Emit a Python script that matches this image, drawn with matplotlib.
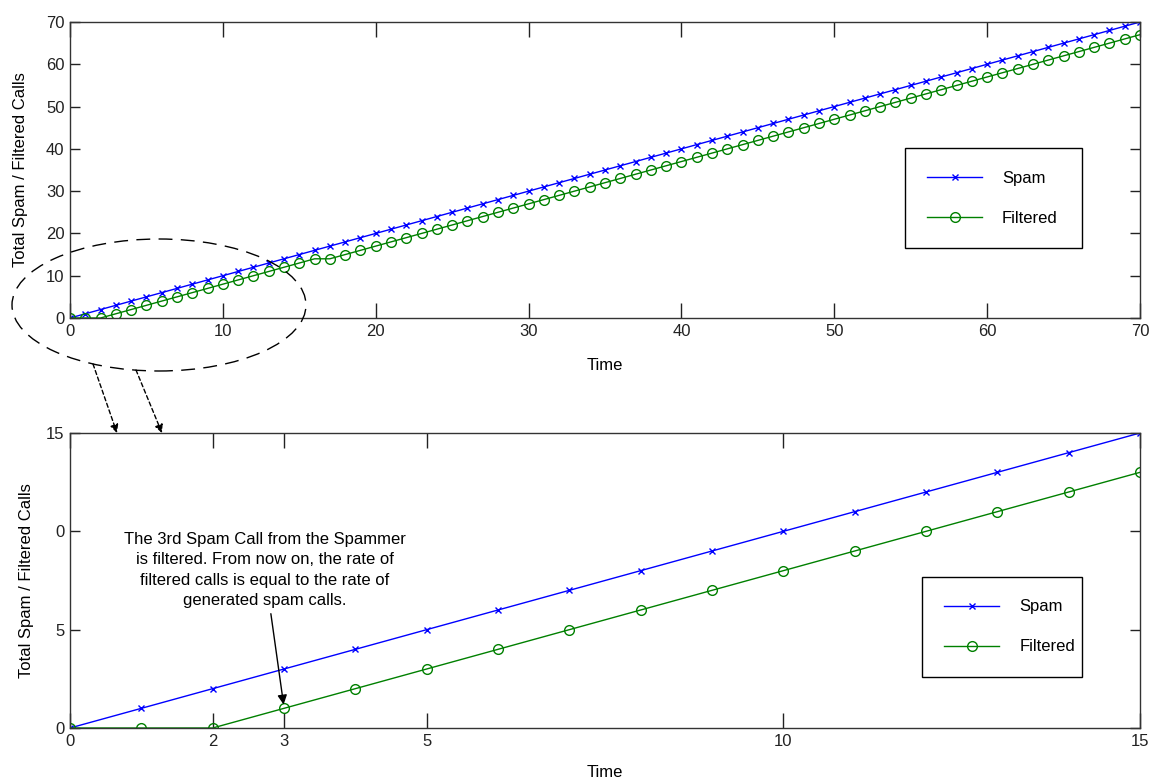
import matplotlib
matplotlib.use("Agg")
import matplotlib.pyplot as plt
import matplotlib.patches as mpatches

plt.rcParams['font.family'] = ['Liberation Sans', 'DejaVu Sans']
plt.rcParams['font.size'] = 12

# top panel: whole run
time_top = [0, 1, 2, 3, 4, 5, 6, 7, 8, 9, 10, 11, 12, 13, 14, 15, 16, 17, 18, 19,
            20, 21, 22, 23, 24, 25, 26, 27, 28, 29, 30, 31, 32, 33, 34, 35, 36, 37, 38, 39,
            40, 41, 42, 43, 44, 45, 46, 47, 48, 49, 50, 51, 52, 53, 54, 55, 56, 57, 58, 59,
            60, 61, 62, 63, 64, 65, 66, 67, 68, 69, 70]
spam_top = [0, 1, 2, 3, 4, 5, 6, 7, 8, 9, 10, 11, 12, 13, 14, 15, 16, 17, 18, 19,
            20, 21, 22, 23, 24, 25, 26, 27, 28, 29, 30, 31, 32, 33, 34, 35, 36, 37, 38, 39,
            40, 41, 42, 43, 44, 45, 46, 47, 48, 49, 50, 51, 52, 53, 54, 55, 56, 57, 58, 59,
            60, 61, 62, 63, 64, 65, 66, 67, 68, 69, 70]
filtered_top = [0, 0, 0, 1, 2, 3, 4, 5, 6, 7, 8, 9, 10, 11, 12, 13, 14, 14, 15, 16,
                17, 18, 19, 20, 21, 22, 23, 24, 25, 26, 27, 28, 29, 30, 31, 32, 33, 34, 35, 36,
                37, 38, 39, 40, 41, 42, 43, 44, 45, 46, 47, 48, 49, 50, 51, 52, 53, 54, 55, 56,
                57, 58, 59, 60, 61, 62, 63, 64, 65, 66, 67]

# bottom panel: zoom on first 15 steps
time_bot = [0, 1, 2, 3, 4, 5, 6, 7, 8, 9, 10, 11, 12, 13, 14, 15]
spam_bot = [0, 1, 2, 3, 4, 5, 6, 7, 8, 9, 10, 11, 12, 13, 14, 15]
filtered_bot = [0, 0, 0, 1, 2, 3, 4, 5, 6, 7, 8, 9, 10, 11, 12, 13]

top_xticks = [0, 10, 20, 30, 40, 50, 60, 70]
top_yticks = [0, 10, 20, 30, 40, 50, 60, 70]
bot_xticks = [0, 2, 3, 5, 10, 15]
bot_yticks = [0, 5, 10, 15]
bot_yticklabels = ['0', '5', '0', '15']

note = ("The 3rd Spam Call from the Spammer\nis filtered. From now on, the rate of\n"
        "filtered calls is equal to the rate of\ngenerated spam calls.")

W, H = 1149, 778
fig = plt.figure(figsize=(W / 100, H / 100), dpi=100)


def px(x, y):
    return x / W, 1 - y / H


def style(ax):
    for s in ax.spines.values():
        s.set_color('#333333')
        s.set_linewidth(1.0)
    ax.tick_params(direction='in', top=True, right=True, colors='#222222',
                   labelcolor='#222222', width=1.0, pad=4)
    ax.tick_params(axis='x', length=11)
    ax.tick_params(axis='y', length=7)


legend_kw = dict(loc='upper left', mode='expand', borderaxespad=0, fancybox=False,
                 framealpha=1, edgecolor='k', handlelength=3.3, handletextpad=1.2,
                 labelspacing=1.5, borderpad=1.35)

ax1 = fig.add_axes([70 / W, 1 - 318 / H, 1070 / W, 296 / H])
ax1.plot(time_top, spam_top, color='#0000ff', marker='x', ms=4, lw=1, mew=1, label='Spam')
ax1.plot(time_top, filtered_top, color='#008000', marker='o', ms=7, lw=1, mfc='none',
         mew=1, label='Filtered')
ax1.set_xlim(0, 70)
ax1.set_ylim(0, 70)
ax1.set_xticks(top_xticks)
ax1.set_yticks(top_yticks)
ax1.set_xlabel('Time')
ax1.set_ylabel('Total Spam / Filtered Calls')
ax1.xaxis.set_label_coords(0.5, -0.135)
ax1.yaxis.set_label_coords(-42 / 1070, 0.5)
style(ax1)
leg1 = ax1.legend(bbox_to_anchor=(0.780, 0.226, 0.166, 0.348), **legend_kw)
leg1.get_frame().set_linewidth(1.0)

ax2 = fig.add_axes([70 / W, 1 - 728 / H, 1070 / W, 295 / H])
ax2.plot(time_bot, spam_bot, color='#0000ff', marker='x', ms=4, lw=1, mew=1, label='Spam')
ax2.plot(time_bot, filtered_bot, color='#008000', marker='o', ms=7, lw=1, mfc='none',
         mew=1, label='Filtered')
ax2.set_xlim(0, 15)
ax2.set_ylim(0, 15)
ax2.set_xticks(bot_xticks)
ax2.set_yticks(bot_yticks)
ax2.set_yticklabels(bot_yticklabels)
ax2.set_xlabel('Time')
ax2.set_ylabel('Total Spam / Filtered Calls')
ax2.xaxis.set_label_coords(0.5, -0.125)
ax2.yaxis.set_label_coords(-36 / 1070, 0.5)
style(ax2)
leg2 = ax2.legend(bbox_to_anchor=(0.796, 0.166, 0.150, 0.346), **legend_kw)
leg2.get_frame().set_linewidth(1.0)

ax2.annotate(note, xy=(3, 1.05), xytext=(2.73, 8.03), ha='center', va='center',
             linespacing=1.45,
             arrowprops=dict(arrowstyle='-|>', color='k', lw=1, mutation_scale=14,
                             shrinkA=2, shrinkB=2))

# dashed ellipse around the zoomed region and the two pointer arrows
ex, ey = px(159, 305)
ell = mpatches.Ellipse((ex, ey), 294 / W, 132 / H, transform=fig.transFigure,
                       fill=False, edgecolor='k', lw=1, linestyle=(0, (10, 6)))
fig.add_artist(ell)
for (x0, y0), (x1, y1) in [((93, 364), (117, 433)), ((136, 370), (162, 433))]:
    arr = mpatches.FancyArrowPatch(px(x0, y0), px(x1, y1), transform=fig.transFigure,
                                   arrowstyle='-|>', mutation_scale=12, color='k',
                                   lw=1, linestyle=(0, (3, 2)), shrinkA=0, shrinkB=0)
    fig.add_artist(arr)

fig.savefig('out.png', dpi=100)
